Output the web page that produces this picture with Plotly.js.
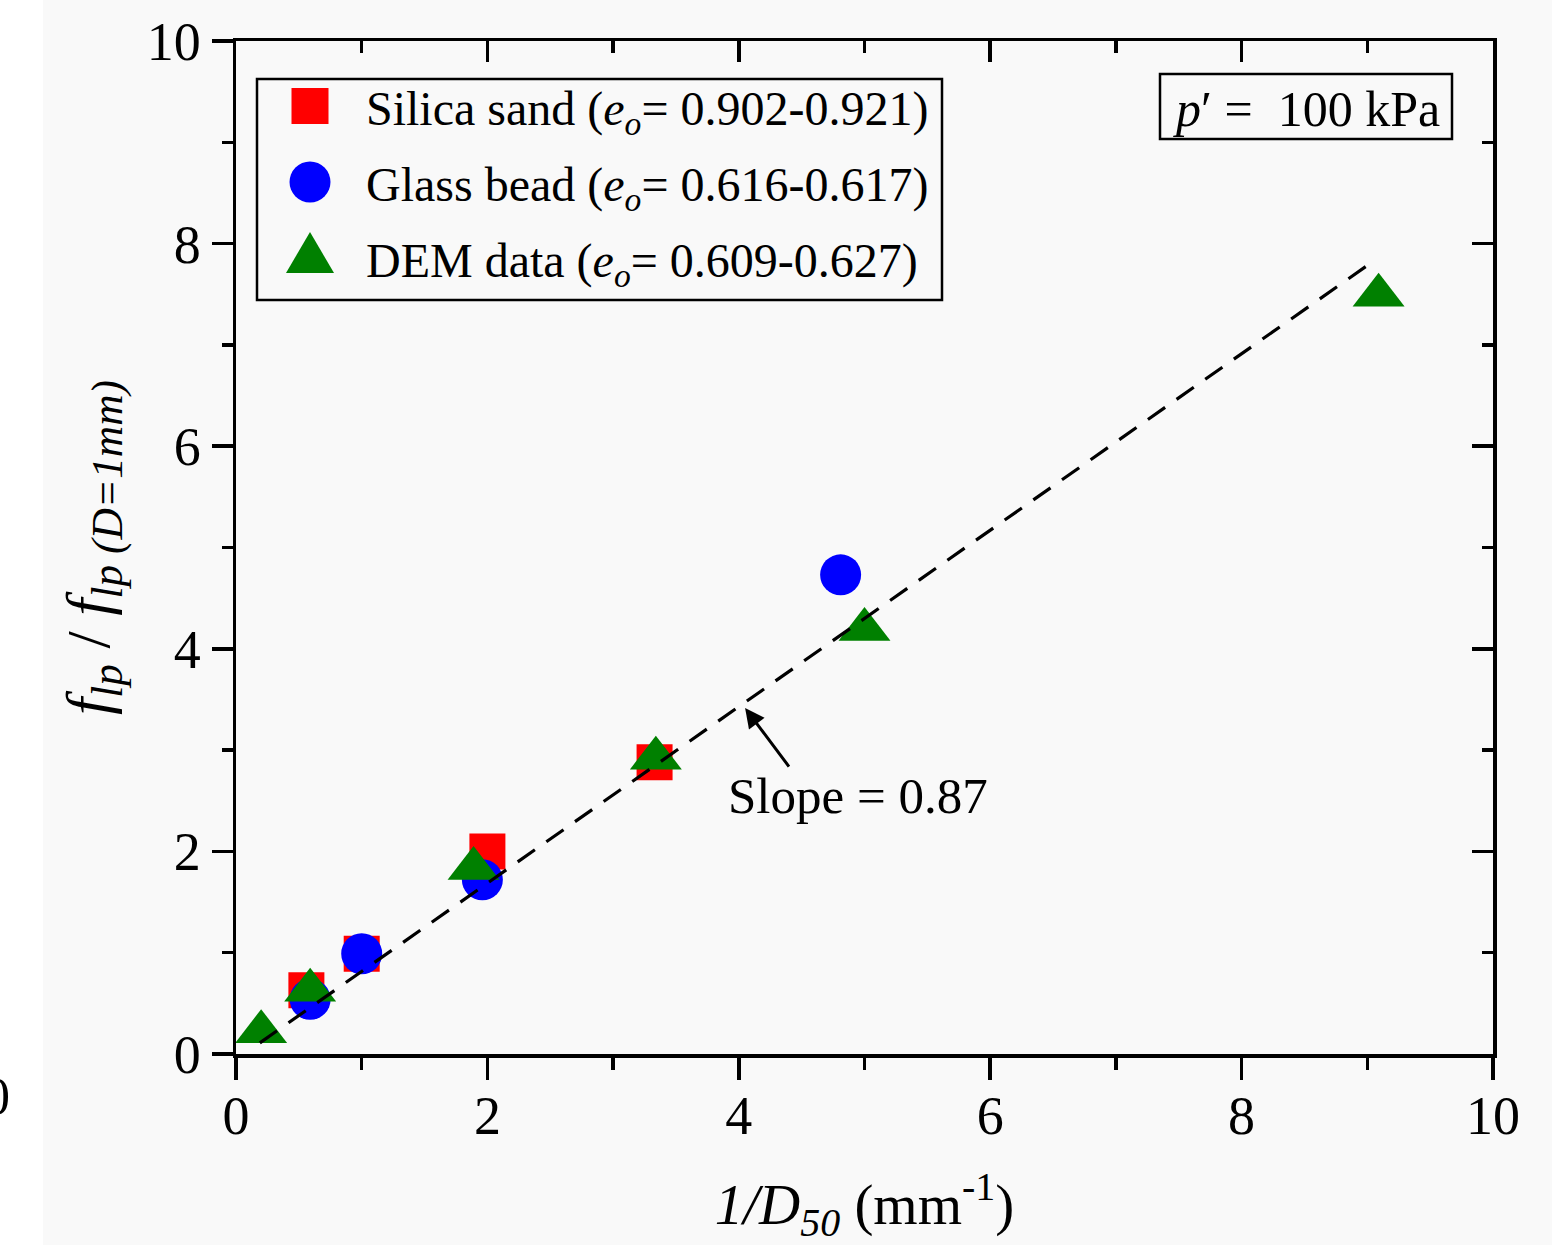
<!DOCTYPE html>
<html>
<head>
<meta charset="utf-8">
<script src="https://cdn.plot.ly/plotly-3.0.1.min.js"></script>
<style>
  html, body { margin: 0; padding: 0; background: #f9f9f9; }
  #chart { width: 1552px; height: 1245px; }
</style>
</head>
<body>
<div id="chart"></div>
<script>
// ---------------- data ----------------
const seriesNames = [
  'Silica sand (<i>e</i><sub><i>o</i></sub>= 0.902-0.921)',
  'Glass bead (<i>e</i><sub><i>o</i></sub>= 0.616-0.617)',
  'DEM data (<i>e</i><sub><i>o</i></sub>= 0.609-0.627)'
];
const silicaX = [0.56, 1.0, 2.0, 3.33];
const silicaY = [0.63, 0.99, 2.0, 2.88];
const glassX = [0.59, 1.0, 1.96, 4.81];
const glassY = [0.54, 0.99, 1.72, 4.73];
const demX = [0.2, 0.59, 1.89, 3.34, 5.0, 9.09];
const demY = [0.22, 0.63, 1.83, 2.92, 4.19, 7.49];
const fitX = [0.19, 9.03];
const fitY = [0.11, 7.81];
const slopeText = 'Slope = 0.87';
const pressureText = '<i>p</i>\u2032 =  100 kPa';
const tickVals = [0, 2, 4, 6, 8, 10];
const tickText = ['0', '2', '4', '6', '8', '10'];

// ---------------- styling ----------------
const FONT = '"Liberation Serif", "Times New Roman", Times, serif';
const BG = '#f9f9f9';
const L = 236, R = 1493, T = 41, B = 1054;
const px = v => (v - L) / (R - L);
const py = v => (B - v) / (B - T);
const colors = ['#ff0000', '#0000ff', '#008000'];
const LW = 3.5;

const traces = [
  { x: silicaX, y: silicaY, type: 'scatter', mode: 'markers', name: seriesNames[0],
    marker: { symbol: 'square', size: 36, color: colors[0] }, cliponaxis: false, showlegend: false },
  { x: glassX, y: glassY, type: 'scatter', mode: 'markers', name: seriesNames[1],
    marker: { symbol: 'circle', size: 41, color: colors[1] }, cliponaxis: false, showlegend: false },
  { x: demX, y: demY, type: 'scatter', mode: 'markers', name: seriesNames[2],
    marker: { symbol: 'triangle-up', size: 45, color: colors[2] }, cliponaxis: false, showlegend: false },
  { x: fitX, y: fitY, type: 'scatter', mode: 'lines', name: 'fit',
    line: { color: '#000000', width: 3.2, dash: '21px,14px' }, showlegend: false },
  // carrier for the mirrored (inward-tick) axes
  { x: [], y: [], xaxis: 'x2', yaxis: 'y2', type: 'scatter', mode: 'markers', showlegend: false, hoverinfo: 'skip' }
];

const baseAxis = {
  range: [0, 10], autorange: false, showgrid: false, zeroline: false,
  tickmode: 'array', tickvals: tickVals, ticktext: tickText,
  linecolor: '#000', linewidth: LW, tickcolor: '#000', tickwidth: LW,
  tickfont: { family: FONT, size: 54, color: '#000' }, fixedrange: true
};

// legend drawn by hand so the markers keep their real size
const rowY = [106, 182, 258];
const mx = 310;
const shapes = [
  { type: 'rect', xref: 'paper', yref: 'paper', x0: px(-5), x1: px(43), y0: py(1250), y1: py(-5),
    fillcolor: '#ffffff', line: { width: 0 }, layer: 'below' },
  { type: 'rect', xref: 'paper', yref: 'paper', x0: px(257), x1: px(942), y0: py(300), y1: py(79),
    line: { color: '#000', width: 2.5 }, fillcolor: 'rgba(0,0,0,0)' },
  { type: 'rect', xref: 'paper', yref: 'paper', x0: px(1160), x1: px(1452), y0: py(139), y1: py(74),
    line: { color: '#000', width: 2.5 }, fillcolor: 'rgba(0,0,0,0)' },
  { type: 'rect', xref: 'paper', yref: 'paper', x0: px(mx - 18.5), x1: px(mx + 18.5), y0: py(rowY[0] + 18), y1: py(rowY[0] - 18),
    fillcolor: colors[0], line: { width: 0 } },
  { type: 'circle', xref: 'paper', yref: 'paper', x0: px(mx - 20.5), x1: px(mx + 20.5), y0: py(rowY[1] + 20.5), y1: py(rowY[1] - 20.5),
    fillcolor: colors[1], line: { width: 0 } },
  { type: 'path', xref: 'paper', yref: 'paper',
    path: 'M ' + px(mx) + ' ' + py(rowY[2] - 26) + ' L ' + px(mx + 24) + ' ' + py(rowY[2] + 15) +
          ' L ' + px(mx - 24) + ' ' + py(rowY[2] + 15) + ' Z',
    fillcolor: colors[2], line: { width: 0 } }
];

const annotations = seriesNames.map((t, i) => ({
  xref: 'paper', yref: 'paper', x: px(364), y: py(rowY[i] + 6), xanchor: 'left', yanchor: 'middle',
  text: t, showarrow: false, font: { family: FONT, size: 48, color: '#000' }
}));
annotations.push(
  { xref: 'paper', yref: 'paper', x: px(1306), y: py(109), xanchor: 'center', yanchor: 'middle',
    text: pressureText, showarrow: false, font: { family: FONT, size: 50, color: '#000' } },
  { xref: 'paper', yref: 'paper', x: px(858), y: py(796), xanchor: 'center', yanchor: 'middle',
    text: slopeText, showarrow: false, font: { family: FONT, size: 51, color: '#000' } },
  { xref: 'x', yref: 'y', x: 4.05, y: 3.415, ax: 45, ay: 60, text: '', showarrow: true,
    arrowhead: 2, arrowsize: 1.3, arrowwidth: 3, arrowcolor: '#000', standoff: 0, startstandoff: 0 },
  { xref: 'paper', yref: 'paper', x: px(12), y: py(1096), xanchor: 'right', yanchor: 'middle',
    text: '0', showarrow: false, font: { family: FONT, size: 52, color: '#000' } }
);

const layout = {
  width: 1552, height: 1245,
  paper_bgcolor: BG, plot_bgcolor: BG,
  margin: { l: L, r: 1552 - R, t: T, b: 1245 - B, pad: 0 },
  showlegend: false,
  font: { family: FONT, color: '#000' },
  xaxis: Object.assign({}, baseAxis, {
    ticks: 'outside', ticklen: 22, mirror: true, ticklabelstandoff: -10,
    minor: { dtick: 1, ticks: 'outside', ticklen: 12, tickwidth: LW, tickcolor: '#000' },
    title: { text: '<i>1/D</i><sub><i>50</i></sub> (mm<sup>-1</sup>)', font: { family: FONT, size: 57, color: '#000' }, standoff: 48 }
  }),
  yaxis: Object.assign({}, baseAxis, {
    ticks: 'outside', ticklen: 21, mirror: true,
    minor: { dtick: 1, ticks: 'outside', ticklen: 11, tickwidth: LW, tickcolor: '#000' },
    title: { text: '<i>f</i><sub><i>lp</i></sub> / <i>f</i><sub><i>lp (D=1mm)</i></sub>', font: { family: FONT, size: 62, color: '#000' }, standoff: 18 }
  }),
  xaxis2: Object.assign({}, baseAxis, {
    overlaying: 'x', side: 'top', anchor: 'y2', showline: false, showticklabels: false,
    ticks: 'inside', ticklen: 21,
    minor: { dtick: 1, ticks: 'inside', ticklen: 12, tickwidth: LW, tickcolor: '#000' }
  }),
  yaxis2: Object.assign({}, baseAxis, {
    overlaying: 'y', side: 'right', anchor: 'x2', showline: false, showticklabels: false,
    ticks: 'inside', ticklen: 21,
    minor: { dtick: 1, ticks: 'inside', ticklen: 11, tickwidth: LW, tickcolor: '#000' }
  }),
  shapes: shapes,
  annotations: annotations
};

Plotly.newPlot('chart', traces, layout, { displayModeBar: false, staticPlot: true });
</script>
</body>
</html>
